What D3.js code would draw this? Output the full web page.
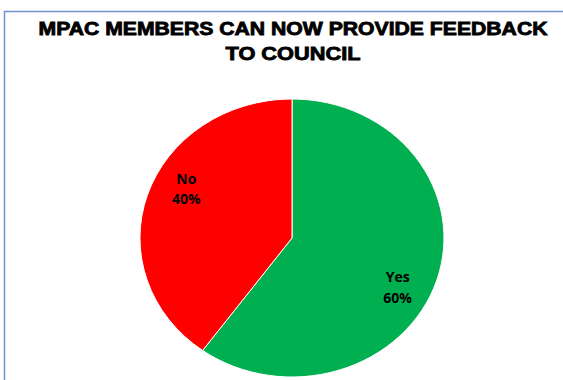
<!DOCTYPE html>
<html>
<head>
<meta charset="utf-8">
<script src="https://cdn.jsdelivr.net/npm/d3@7"></script>
<style>
  body { margin: 0; background: #fff; }
  svg { display: block; }
</style>
</head>
<body>
<svg width="563" height="380"></svg>
<script>
var categories = ["Yes", "No"]
var values = [60, 40]
var colors = ["#00B050", "#FF0000"]
var titleLines = ["MPAC MEMBERS CAN NOW PROVIDE FEEDBACK", "TO COUNCIL"]

main()

function main() {
  var W = 563
  var H = 380
  var CX = 292
  var CY = 238
  var RX = 152
  var RY = 139
  var LABEL_R = 0.78
  var LABEL_SHIFT = 9 * Math.PI / 180

  var svg = d3.select("svg")

  // chart area frame
  svg.append("rect")
      .attr("x", 4.5)
      .attr("y", 11.5)
      .attr("width", W + 10)
      .attr("height", H + 10)
      .attr("fill", "none")
      .attr("stroke", "#7194d1")
      .attr("stroke-width", 1.5)

  var titleWidths = [509, 135]
  svg.selectAll("text.title")
      .data(titleLines)
      .enter()
      .append("text")
      .attr("class", "title")
      .attr("x", 293)
      .attr("y", function(d, i) { return 34.5 + i * 25 })
      .attr("text-anchor", "middle")
      .attr("font-family", "Liberation Sans, Arial, sans-serif")
      .attr("font-weight", "bold")
      .attr("font-size", 17.5)
      .attr("stroke", "#000")
      .attr("stroke-width", 0.8)
      .attr("textLength", function(d, i) { return titleWidths[i] })
      .attr("lengthAdjust", "spacingAndGlyphs")
      .text(function(d) { return d })

  var data = categories.map(function(c, i) { return {name: c, value: values[i], color: colors[i]} })
  var total = d3.sum(values)

  var pie = d3.pie()
      .sort(null)
      .value(function(d) { return d.value })

  var arc = d3.arc()
      .innerRadius(0)
      .outerRadius(1)

  var slices = pie(data)

  var g = svg.append("g")
      .attr("transform", "translate(" + CX + "," + CY + ")")

  // stretched pie (plot area is wider than tall)
  g.append("g")
      .attr("transform", "scale(" + RX + "," + RY + ")")
    .selectAll("path")
      .data(slices)
      .enter()
      .append("path")
      .attr("d", arc)
      .attr("fill", function(d) { return d.data.color })
      .attr("stroke", "#fff")
      .attr("stroke-width", 1)
      .attr("vector-effect", "non-scaling-stroke")

  var labels = g.selectAll("g.label")
      .data(slices)
      .enter()
      .append("g")
      .attr("class", "label")
      .attr("transform", function(d) {
        var a = (d.startAngle + d.endAngle) / 2 + LABEL_SHIFT
        var x = Math.sin(a) * LABEL_R * RX
        var y = -Math.cos(a) * LABEL_R * RY
        return "translate(" + x + "," + y + ")"
      })

  labels.append("text")
      .attr("y", -5)
      .attr("text-anchor", "middle")
      .attr("font-family", "Open Sans, sans-serif")
      .attr("font-weight", "bold")
      .attr("font-size", 14)
      .attr("fill", "#000")
      .text(function(d) { return d.data.name })

  labels.append("text")
      .attr("y", 15.5)
      .attr("text-anchor", "middle")
      .attr("font-family", "Open Sans, sans-serif")
      .attr("font-weight", "bold")
      .attr("font-size", 14)
      .attr("fill", "#000")
      .text(function(d) { return Math.round(d.data.value / total * 100) + "%" })
}
</script>
</body>
</html>
